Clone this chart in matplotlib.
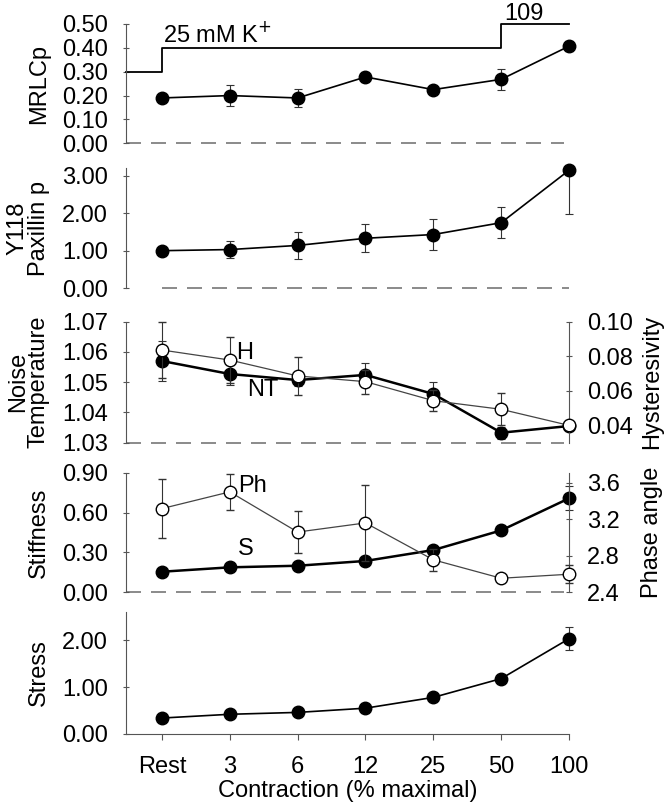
import numpy as np
import matplotlib
matplotlib.use("Agg")
import matplotlib.pyplot as plt
from matplotlib.ticker import FormatStrFormatter

plt.rcParams['font.family'] = ['Liberation Sans', 'DejaVu Sans']

# categories
conditions = ["Rest", "3", "6", "12", "25", "50", "100"]

# MRLC phosphorylation
mrlc = [0.19, 0.20, 0.19, 0.278, 0.225, 0.268, 0.407]
mrlc_err = [0.012, 0.045, 0.037, 0.02, 0.012, 0.045, 0.02]

# stimulus bar (K+ concentration steps)
stim_x = [-0.53, 0, 0, 5, 5, 6]
stim_y = [0.30, 0.30, 0.40, 0.40, 0.50, 0.50]

# Y118 paxillin phosphorylation
paxillin = [1.00, 1.03, 1.14, 1.33, 1.43, 1.745, 3.14]
pax_err_lo = [0.02, 0.22, 0.37, 0.37, 0.40, 0.42, 1.17]
pax_err_hi = [0.02, 0.22, 0.37, 0.37, 0.40, 0.42, 0.0]

# noise temperature (left) and hysteresivity (right)
noise_temp = [1.0570, 1.0527, 1.0507, 1.0524, 1.0461, 1.0333, 1.0355]
noise_err = [0.0065, 0.0035, 0.002, 0.004, 0.004, 0.002, 0.001]
hyster = [0.0836, 0.0778, 0.0686, 0.0653, 0.0543, 0.0493, 0.0400]
hyster_err = [0.016, 0.0135, 0.011, 0.007, 0.006, 0.0093, 0.001]

# stiffness (left) and phase angle (right)
stiffness = [0.155, 0.188, 0.20, 0.236, 0.318, 0.466, 0.707]
stiff_err = [0.005, 0.005, 0.005, 0.01, 0.01, 0.02, 0.09]
phase = [3.317, 3.50, 3.06, 3.16, 2.756, 2.554, 2.598]
phase_err = [0.32, 0.20, 0.23, 0.42, 0.12, 0.01, 0.10]

# stress
stress = [0.34, 0.42, 0.46, 0.55, 0.78, 1.18, 2.03]
stress_err = [0.01, 0.01, 0.02, 0.02, 0.03, 0.04, 0.24]

x = np.arange(len(conditions))
TICK_FS = 17
LABEL_FS = 17
SPINE_COL = "#555555"

fig = plt.figure(figsize=(6.66, 8.05), dpi=100)
left, width = 0.1892, 0.6652
boxes = [(0.8220, 0.1482), (0.6419, 0.1494), (0.4501, 0.1503),
         (0.2642, 0.1486), (0.0882, 0.1516)]
axes = [fig.add_axes([left, b, width, h]) for b, h in boxes]


def style_axis(ax, ylim, ticks, fmt):
    ax.set_xlim(-0.53, 6.0)
    ax.set_ylim(*ylim)
    ax.set_yticks(ticks)
    ax.yaxis.set_major_formatter(FormatStrFormatter(fmt))
    for s in ["top", "right", "bottom"]:
        ax.spines[s].set_visible(False)
    ax.spines["left"].set_color(SPINE_COL)
    ax.spines["left"].set_linewidth(0.8)
    ax.tick_params(axis="y", direction="inout", length=4, width=0.8,
                   color=SPINE_COL, labelsize=TICK_FS, pad=11)
    ax.set_xticks([])


def right_axis(ax, ylim, ticks, fmt, label):
    axr = ax.twinx()
    axr.set_xlim(-0.53, 6.0)
    axr.set_ylim(*ylim)
    axr.set_yticks(ticks)
    axr.yaxis.set_major_formatter(FormatStrFormatter(fmt))
    for s in ["top", "left", "bottom"]:
        axr.spines[s].set_visible(False)
    axr.spines["right"].set_color(SPINE_COL)
    axr.spines["right"].set_linewidth(0.8)
    axr.tick_params(axis="y", direction="inout", length=4, width=0.8,
                    color=SPINE_COL, labelsize=TICK_FS, pad=11)
    axr.set_ylabel(label, fontsize=LABEL_FS)
    axr.yaxis.set_label_coords(1.162, 0.5)
    return axr


def baseline(ax, y, x0=-0.53, x1=5.92):
    ax.plot([x0, x1], [y, y], color="#777777", lw=1.2,
            dashes=(9, 6), zorder=1, clip_on=False)


def filled(ax, vals, err, lw=1.2):
    ax.errorbar(x, vals, yerr=err, fmt="o-", color="black", ms=9,
                lw=lw, elinewidth=0.8, capsize=3, capthick=0.8,
                ecolor="#333333", clip_on=False, zorder=3)


def opened(ax, vals, err):
    ax.errorbar(x, vals, yerr=err, fmt="o-", color="#444444", mfc="white",
                mec="black", mew=1.0, ms=9, lw=0.9, elinewidth=0.8,
                capsize=3, capthick=0.8, ecolor="#333333",
                clip_on=False, zorder=4)


def left_label(ax, text):
    ax.set_ylabel(text, fontsize=LABEL_FS, linespacing=0.95)
    ax.yaxis.set_label_coords(-0.172, 0.5)


# panel 1: MRLCp
ax = axes[0]
style_axis(ax, (0, 0.5), np.arange(0, 0.51, 0.1), "%.2f")
baseline(ax, 0)
ax.plot(stim_x, stim_y, color="black", lw=1.3, clip_on=False)
filled(ax, mrlc, mrlc_err)
ax.text(0.02, 0.455, "25 mM K$^{+}$", fontsize=TICK_FS, ha="left", va="center")
ax.text(5.05, 0.515, "109", fontsize=TICK_FS, ha="left", va="baseline",
        clip_on=False)
left_label(ax, "MRLCp")

# panel 2: paxillin
ax = axes[1]
style_axis(ax, (0, 3.2), [0, 1, 2, 3], "%.2f")
baseline(ax, 0, 0, 6)
filled(ax, paxillin, [pax_err_lo, pax_err_hi])
left_label(ax, "Y118\nPaxillin p")

# panel 3: noise temperature / hysteresivity
ax = axes[2]
style_axis(ax, (1.03, 1.07), [1.03, 1.04, 1.05, 1.06, 1.07], "%.2f")
baseline(ax, 1.03)
filled(ax, noise_temp, noise_err, lw=1.8)
left_label(ax, "Noise\nTemperature")
ax.text(1.09, 1.0595, "H", fontsize=TICK_FS, ha="left", va="center")
ax.text(1.25, 1.0475, "NT", fontsize=TICK_FS, ha="left", va="center")
axr = right_axis(ax, (0.03, 0.10), [0.04, 0.06, 0.08, 0.10], "%.2f",
                 "Hysteresivity")
opened(axr, hyster, hyster_err)

# panel 4: stiffness / phase angle
ax = axes[3]
style_axis(ax, (0, 0.9), [0, 0.3, 0.6, 0.9], "%.2f")
baseline(ax, 0)
filled(ax, stiffness, stiff_err, lw=1.8)
left_label(ax, "Stiffness")
ax.text(1.12, 0.80, "Ph", fontsize=TICK_FS, ha="left", va="center")
ax.text(1.12, 0.325, "S", fontsize=TICK_FS, ha="left", va="center")
axr = right_axis(ax, (2.4, 3.71), [2.4, 2.8, 3.2, 3.6], "%.1f",
                 "Phase angle")
opened(axr, phase, phase_err)

# panel 5: stress
ax = axes[4]
style_axis(ax, (0, 2.6), [0, 1, 2], "%.2f")
ax.spines["bottom"].set_visible(True)
ax.spines["bottom"].set_color(SPINE_COL)
ax.spines["bottom"].set_linewidth(0.8)
ax.set_xticks(x)
ax.set_xticklabels(conditions)
ax.tick_params(axis="x", direction="out", length=4, width=0.8,
               color=SPINE_COL, labelsize=TICK_FS, pad=12)
filled(ax, stress, stress_err)
left_label(ax, "Stress")
ax.set_xlabel("Contraction (% maximal)", fontsize=LABEL_FS, labelpad=1)

fig.savefig("out.png", dpi=100)
